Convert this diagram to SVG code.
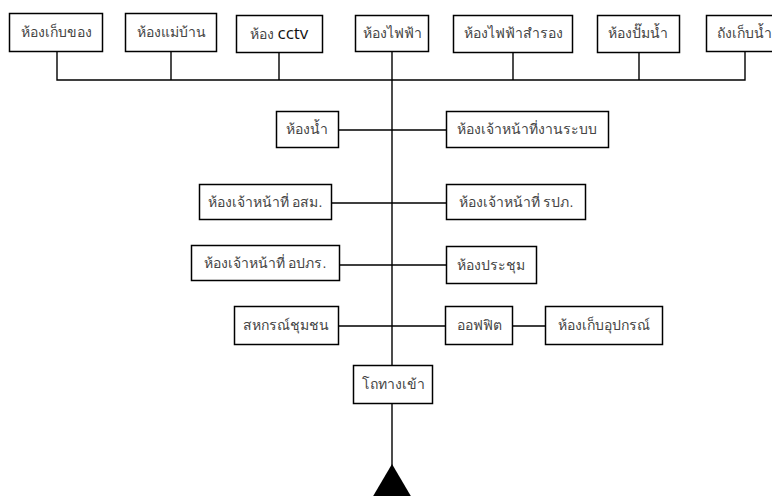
<svg xmlns="http://www.w3.org/2000/svg" width="772" height="496" viewBox="0 0 772 496">
<style>
.box{fill:#fff;stroke:#000;stroke-width:1.5}
.t{font-family:"Liberation Sans","Noto Sans",Tahoma,sans-serif;font-size:14px;fill:#444;text-anchor:middle}
.c{font-family:"Open Sans","Liberation Sans",sans-serif;font-size:17px;fill:#111}
.ln{stroke:#000;stroke-width:1.4;fill:none}
</style>
<rect width="772" height="496" fill="#fff"/>
<g id="connectors">
<path class="ln" d="M57,52V80H745V52M171,52V80M279,52V80M513,52V80M639,52V80"/>
<path class="ln" d="M392,52V365M392,403V466"/>
<path class="ln" d="M338,130H447M331,203H447M339,265H447M339,326H446M512,326H545"/>
<polygon points="392,464 372,498 412,498" fill="#000"/>
</g>
<g id="n1"><rect class="box" x="9.5" y="13.5" width="93" height="38"/><text class="t" x="56" y="37">ห้องเก็บของ</text></g>
<g id="n2"><rect class="box" x="125.5" y="13.5" width="91" height="38"/><text class="t" x="171" y="37">ห้องแม่บ้าน</text></g>
<g id="n3"><rect class="box" x="236.5" y="15.5" width="86" height="37"/><text class="t" x="279" y="39"><tspan>ห้อง </tspan><tspan class="c">cctv</tspan></text></g>
<g id="n4"><rect class="box" x="355.5" y="15.5" width="73" height="36"/><text class="t" x="392" y="38">ห้องไฟฟ้า</text></g>
<g id="n5"><rect class="box" x="453.5" y="15.5" width="119" height="37"/><text class="t" x="513" y="38">ห้องไฟฟ้าสำรอง</text></g>
<g id="n6"><rect class="box" x="597.5" y="15.5" width="82" height="37"/><text class="t" x="638" y="38">ห้องปั๊มน้ำ</text></g>
<g id="n7"><rect class="box" x="706.5" y="15.5" width="80" height="36"/><text class="t" x="717" y="38" style="text-anchor:start">ถังเก็บน้ำ</text></g>
<g id="n8"><rect class="box" x="276.5" y="111.5" width="62" height="36"/><text class="t" x="307" y="134">ห้องน้ำ</text></g>
<g id="n9"><rect class="box" x="446.5" y="111.5" width="162" height="36"/><text class="t" x="527" y="134">ห้องเจ้าหน้าที่งานระบบ</text></g>
<g id="n10"><rect class="box" x="199.5" y="184.5" width="132" height="35"/><text class="t" x="265" y="207">ห้องเจ้าหน้าที่ อสม.</text></g>
<g id="n11"><rect class="box" x="446.5" y="184.5" width="139" height="35"/><text class="t" x="516" y="207">ห้องเจ้าหน้าที่ รปภ.</text></g>
<g id="n12"><rect class="box" x="191.5" y="245.5" width="148" height="35"/><text class="t" x="265" y="268">ห้องเจ้าหน้าที่ อปภร.</text></g>
<g id="n13"><rect class="box" x="446.5" y="246.5" width="90" height="37"/><text class="t" x="491" y="270">ห้องประชุม</text></g>
<g id="n14"><rect class="box" x="234.5" y="306.5" width="104" height="38"/><text class="t" x="286" y="330">สหกรณ์ชุมชน</text></g>
<g id="n15"><rect class="box" x="445.5" y="306.5" width="67" height="38"/><text class="t" x="479" y="330">ออฟฟิต</text></g>
<g id="n16"><rect class="box" x="545.5" y="306.5" width="117" height="38"/><text class="t" x="604" y="330">ห้องเก็บอุปกรณ์</text></g>
<g id="n17"><rect class="box" x="353.5" y="365.5" width="79" height="38"/><text class="t" x="393" y="389">โถทางเข้า</text></g>
</svg>
